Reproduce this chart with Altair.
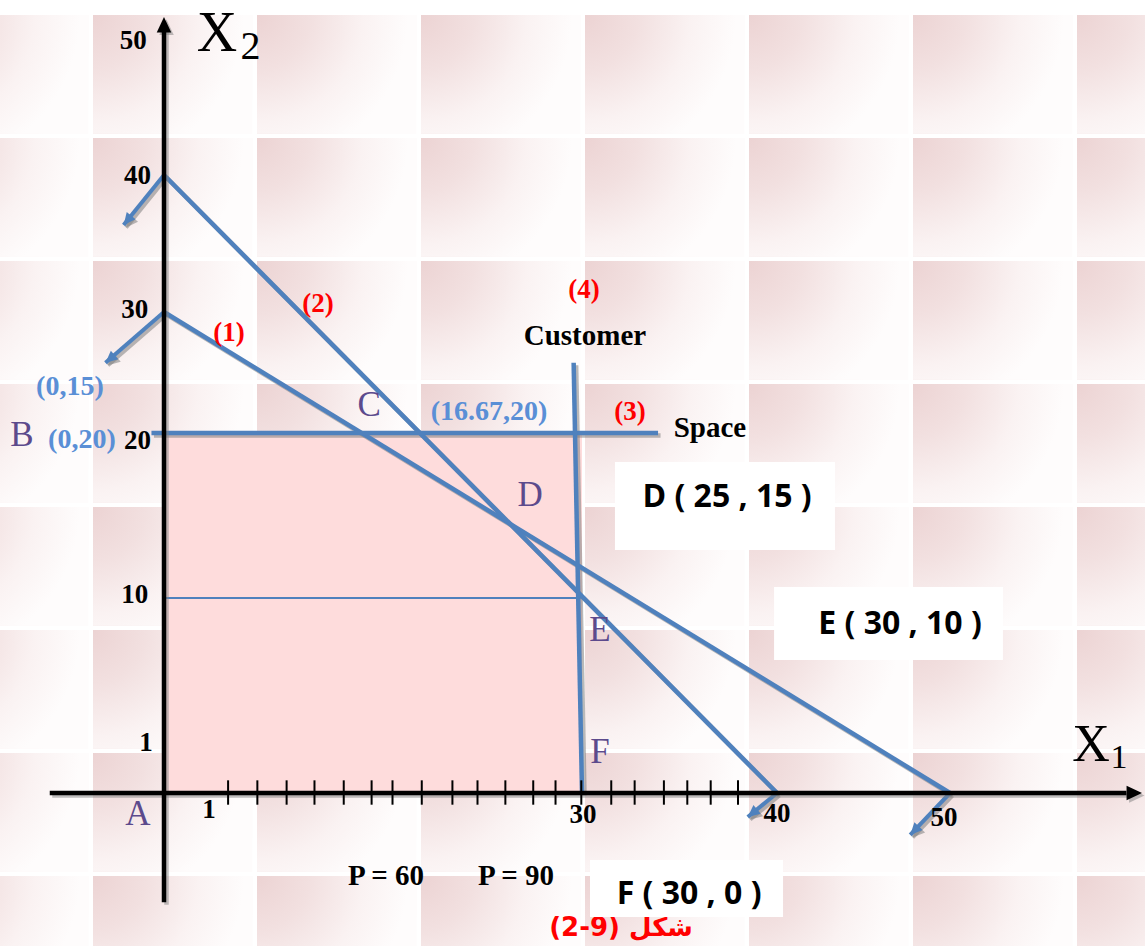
import math
import altair as alt
import pandas as pd

# ---------------------------------------------------------------------------
# Calibration of the hand-drawn axes: value -> pixel on the page
# ---------------------------------------------------------------------------
X_VALUES = [0, 30, 40, 50]
X_PIXELS = [164, 582, 777, 950]
Y_VALUES = [0, 10, 20, 30, 40, 50]
Y_PIXELS = [793, 598, 433, 312, 175, 40]

# ---------------------------------------------------------------------------
# Data
# ---------------------------------------------------------------------------
# constraint lines: (1), (2), (3) Space, (4) Customer
LINE_NAMES = ["(1)", "(2)", "(3) Space", "(4) Customer"]
LINE_X0 = [0, 0, -0.9, 29.4]
LINE_Y0 = [30, 40, 20, 25.8]
LINE_X1 = [50, 40, 33.9, 30]
LINE_Y1 = [0, 0, 20, 0]

# profit level line x2 = 10 inside the feasible region
LEVEL_X = [0, 29.9]
LEVEL_Y = [10, 10]

# feasible region rectangle
REGION_X = [0, 30]
REGION_Y = [0, 20]

# arrows showing the side of each constraint
ARROW_X0 = [0, 0, 40, 50]
ARROW_Y0 = [40, 30, 0, 0]
ARROW_X1 = [-2.9, -4.2, 38.5, 47.7]
ARROW_Y1 = [36.35, 25.8, -1.23, -2.15]

# coordinate axes
X_AXIS = [-8.2, 60.2]
Y_AXIS = [-5.6, 51.0]
X_AXIS_TIP = [61.1, 0]
Y_AXIS_TIP = [0, 51.7]
X_MINOR_TICKS = [4.6, 6.7, 8.8, 10.8, 12.9, 14.9, 16.4, 18.5, 20.7, 22.5,
                 24.5, 26.5, 28.1, 29.95, 31.5, 32.7, 34.2, 35.4, 36.6, 38.0]

# tick labels
Y_TICK_TEXT = ["50", "40", "30", "20", "10", "1"]
Y_TICK_X = [-2.2, -1.9, -2.1, -1.9, -2.1, -1.3]
Y_TICK_Y = [49.93, 39.93, 30.15, 19.52, 10.18, 2.56]
X_TICK_TEXT = ["1", "30", "40", "50"]
X_TICK_X = [3.23, 30.05, 40.0, 49.65]
X_TICK_Y = [-0.87, -1.13, -1.08, -1.28]

# corner points of the feasible region
POINT_TEXT = ["A", "B", "C", "D", "E", "F"]
POINT_X = [-1.87, -10.19, 14.72, 26.27, 30.92, 30.92]
POINT_Y = [-1.08, 19.88, 22.31, 16.24, 8.36, 2.10]

# coordinates written next to the points
COORD_TEXT = ["(0,15)", "(0,20)", "(16.67,20)"]
COORD_X = [-6.75, -5.89, 23.33]
COORD_Y = [23.8, 19.58, 21.74]

# constraint numbers
NUM_TEXT = ["(1)", "(2)", "(3)", "(4)"]
NUM_X = [4.67, 11.05, 32.46, 30.1]
NUM_Y = [28.26, 30.58, 21.74, 31.61]

# constraint names and profit levels
NAME_TEXT = ["Customer", "Space", "P = 60", "P = 90"]
NAME_X = [30.15, 36.56, 15.93, 25.26]
NAME_Y = [28.02, 20.41, -4.26, -4.26]

# axis titles (letter, subscript)
TITLE_TEXT = ["X", "X"]
TITLE_X = [3.8, 58.15]
TITLE_Y = [50.45, 2.46]
TITLE_SIZE = [56, 52]
SUB_TEXT = ["2", "1"]
SUB_X = [6.2, 59.77]
SUB_Y = [49.45, 1.79]
SUB_SIZE = [40, 34]

# boxed vertex coordinates
BOX_TEXT = ["D ( 25 , 15 )", "E ( 30 , 10 )", "F ( 30 , 0 )"]
BOX_TEXT_X = [37.44, 47.11, 35.49]
BOX_TEXT_Y = [16.12, 8.67, -5.18]
BOX_X0 = [31.69, 39.85, 30.41]
BOX_X1 = [43.35, 53.06, 40.35]
BOX_Y0 = [12.91, 6.82, -6.36]
BOX_Y1 = [18.24, 10.67, -3.44]

CAPTION = "شكل (9-2)"
CAPTION_X = 32.0
CAPTION_Y = -6.9

# ---------------------------------------------------------------------------
# Styles
# ---------------------------------------------------------------------------
BLUE = "#4f81bd"
LABEL_BLUE = "#5a8fd6"
PURPLE = "#5c4a8c"
RED = "#ff0000"
PINK = "#fedcdc"
SERIF = "Liberation Serif"
SANS = "Open Sans"


def to_px(v, values, pixels):
    """Piecewise-linear mapping used by the scales (with end extrapolation)."""
    if v <= values[1]:
        i = 0
    elif v >= values[-2]:
        i = len(values) - 2
    else:
        i = max(k for k in range(len(values) - 1) if values[k] <= v)
    t = (v - values[i]) / (values[i + 1] - values[i])
    return pixels[i] + t * (pixels[i + 1] - pixels[i])


def heading(x0, y0, x1, y1):
    dx = to_px(x1, X_VALUES, X_PIXELS) - to_px(x0, X_VALUES, X_PIXELS)
    dy = to_px(y1, Y_VALUES, Y_PIXELS) - to_px(y0, Y_VALUES, Y_PIXELS)
    return math.degrees(math.atan2(dx, -dy)) % 360


def xs(field, shift=0.0):
    return alt.X(f"{field}:Q", axis=None,
                 scale=alt.Scale(domain=X_VALUES, range=[p + shift for p in X_PIXELS],
                                 zero=False, nice=False))


def ys(field, shift=0.0):
    return alt.Y(f"{field}:Q", axis=None,
                 scale=alt.Scale(domain=Y_VALUES, range=[p + shift for p in Y_PIXELS],
                                 zero=False, nice=False))


def segments(shift=0.0):
    return dict(x=xs("x0", shift), y=ys("y0", shift), x2=alt.X2("x1"), y2=alt.Y2("y1"))


layers = []

# --- background tiles --------------------------------------------------------
tiles = pd.DataFrame([{"c": c, "r": r} for c in range(-1, 7) for r in range(0, 8)])
tile_fill = alt.RadialGradient(
    gradient="radial", x1=0, y1=0.13, r1=0, x2=0, y2=0.13, r2=0.95,
    stops=[alt.GradientStop(offset=0, color="#ecd3d3"),
           alt.GradientStop(offset=0.35, color="#f2e0e0"),
           alt.GradientStop(offset=0.7, color="#faf2f2"),
           alt.GradientStop(offset=1, color="#fefcfc")])
layers.append(
    alt.Chart(tiles).transform_calculate(c2="datum.c + 0.97", r2="datum.r + 0.967")
    .mark_rect(fill=tile_fill, strokeWidth=0)
    .encode(x=alt.X("c:Q", axis=None, scale=alt.Scale(domain=[0, 1], range=[93, 257], zero=False, nice=False)),
            x2="c2:Q",
            y=alt.Y("r:Q", axis=None, scale=alt.Scale(domain=[0, 1], range=[15, 138], zero=False, nice=False)),
            y2="r2:Q")
)

# --- feasible region ---------------------------------------------------------
region = pd.DataFrame({"x0": [REGION_X[0]], "x1": [REGION_X[1]],
                       "y0": [REGION_Y[0]], "y1": [REGION_Y[1]]})
layers.append(alt.Chart(region).mark_rect(color=PINK).encode(**segments()))

# --- level line ----------------------------------------------------------------
level = pd.DataFrame({"x0": [LEVEL_X[0]], "x1": [LEVEL_X[1]], "y0": [LEVEL_Y[0]], "y1": [LEVEL_Y[1]]})
layers.append(alt.Chart(level).mark_rule(color=BLUE, strokeWidth=2).encode(**segments()))

# --- constraint lines and arrows ----------------------------------------------
lines = pd.DataFrame({"name": LINE_NAMES, "x0": LINE_X0, "y0": LINE_Y0, "x1": LINE_X1, "y1": LINE_Y1})
arrows = pd.DataFrame({"x0": ARROW_X0, "y0": ARROW_Y0, "x1": ARROW_X1, "y1": ARROW_Y1})
arrows["angle"] = [heading(a, b, c, d) for a, b, c, d in zip(ARROW_X0, ARROW_Y0, ARROW_X1, ARROW_Y1)]
HEAD = "M0,0L0.8,1.7L-0.8,1.7Z"

for shift, colour, opacity in [(2.5, "#808080", 0.55), (0.0, BLUE, 1.0)]:
    layers.append(alt.Chart(lines).mark_rule(color=colour, strokeWidth=4.5, opacity=opacity)
                  .encode(**segments(shift)))
    layers.append(alt.Chart(arrows).mark_rule(color=colour, strokeWidth=4, opacity=opacity)
                  .encode(**segments(shift)))
    layers.append(alt.Chart(arrows).mark_point(shape=HEAD, filled=True, size=200, color=colour,
                                               opacity=opacity, strokeWidth=0)
                  .encode(x=xs("x1", shift), y=ys("y1", shift),
                          angle=alt.Angle("angle:Q", scale=None)))

# --- axes ------------------------------------------------------------------------
axes = pd.DataFrame({"x0": [X_AXIS[0], 0], "x1": [X_AXIS[1], 0],
                     "y0": [0, Y_AXIS[0]], "y1": [0, Y_AXIS[1]]})
axis_tips = pd.DataFrame({"x1": [X_AXIS_TIP[0], Y_AXIS_TIP[0]], "y1": [X_AXIS_TIP[1], Y_AXIS_TIP[1]],
                          "angle": [90, 0]})
for shift, colour, opacity in [(2.5, "#808080", 0.5), (0.0, "black", 1.0)]:
    layers.append(alt.Chart(axes).mark_rule(color=colour, strokeWidth=4.5, opacity=opacity)
                  .encode(**segments(shift)))
    layers.append(alt.Chart(axis_tips).mark_point(shape=HEAD, filled=True, size=330, color=colour,
                                                  opacity=opacity, strokeWidth=0)
                  .encode(x=xs("x1", shift), y=ys("y1", shift),
                          angle=alt.Angle("angle:Q", scale=None)))

ticks = pd.DataFrame({"x0": X_MINOR_TICKS, "x1": X_MINOR_TICKS,
                      "y0": [-0.6] * len(X_MINOR_TICKS), "y1": [0.65] * len(X_MINOR_TICKS)})
layers.append(alt.Chart(ticks).mark_rule(color="black", strokeWidth=2).encode(**segments()))


# --- text ----------------------------------------------------------------------
def text_layer(texts, xv, yv, sizes=None, **style):
    df = pd.DataFrame({"t": texts, "x": xv, "y": yv})
    enc = dict(x=xs("x"), y=ys("y"), text="t:N")
    if sizes is not None:
        df["s"] = sizes
        enc["size"] = alt.Size("s:Q", scale=None)
    return alt.Chart(df).mark_text(align="center", baseline="middle", **style).encode(**enc)


layers.append(text_layer(Y_TICK_TEXT, Y_TICK_X, Y_TICK_Y, font=SERIF, fontSize=27, fontWeight="bold", color="black"))
layers.append(text_layer(X_TICK_TEXT, X_TICK_X, X_TICK_Y, font=SERIF, fontSize=27, fontWeight="bold", color="black"))
layers.append(text_layer(POINT_TEXT, POINT_X, POINT_Y, font=SERIF, fontSize=35, color=PURPLE))
layers.append(text_layer(COORD_TEXT, COORD_X, COORD_Y, font=SERIF, fontSize=28, fontWeight="bold", color=LABEL_BLUE))
layers.append(text_layer(NUM_TEXT, NUM_X, NUM_Y, font=SERIF, fontSize=27, fontWeight="bold", color=RED))
layers.append(text_layer(NAME_TEXT, NAME_X, NAME_Y, font=SERIF, fontSize=29, fontWeight="bold", color="black"))

# axis titles X1 and X2
layers.append(text_layer(TITLE_TEXT, TITLE_X, TITLE_Y, sizes=TITLE_SIZE, font=SERIF, color="black"))
layers.append(text_layer(SUB_TEXT, SUB_X, SUB_Y, sizes=SUB_SIZE, font=SERIF, color="black"))

# caption (partly hidden behind the F box)
layers.append(text_layer([CAPTION], [CAPTION_X], [CAPTION_Y], font="DejaVu Sans", fontSize=26,
                         fontWeight="bold", color=RED, dir="rtl"))

# boxed vertex coordinates
boxes = pd.DataFrame({"x0": BOX_X0, "x1": BOX_X1, "y0": BOX_Y0, "y1": BOX_Y1})
layers.append(alt.Chart(boxes).mark_rect(color="white").encode(**segments()))
layers.append(text_layer(BOX_TEXT, BOX_TEXT_X, BOX_TEXT_Y, font=SANS, fontSize=32, fontWeight="bold", color="black"))

chart = (
    alt.layer(*layers)
    .resolve_scale(x="independent", y="independent")
    .properties(width=1145, height=946, autosize="none", padding=0, background="white")
    .configure_view(strokeWidth=0)
)

chart.save("out.html", embed_options={"renderer": "svg", "actions": False})
